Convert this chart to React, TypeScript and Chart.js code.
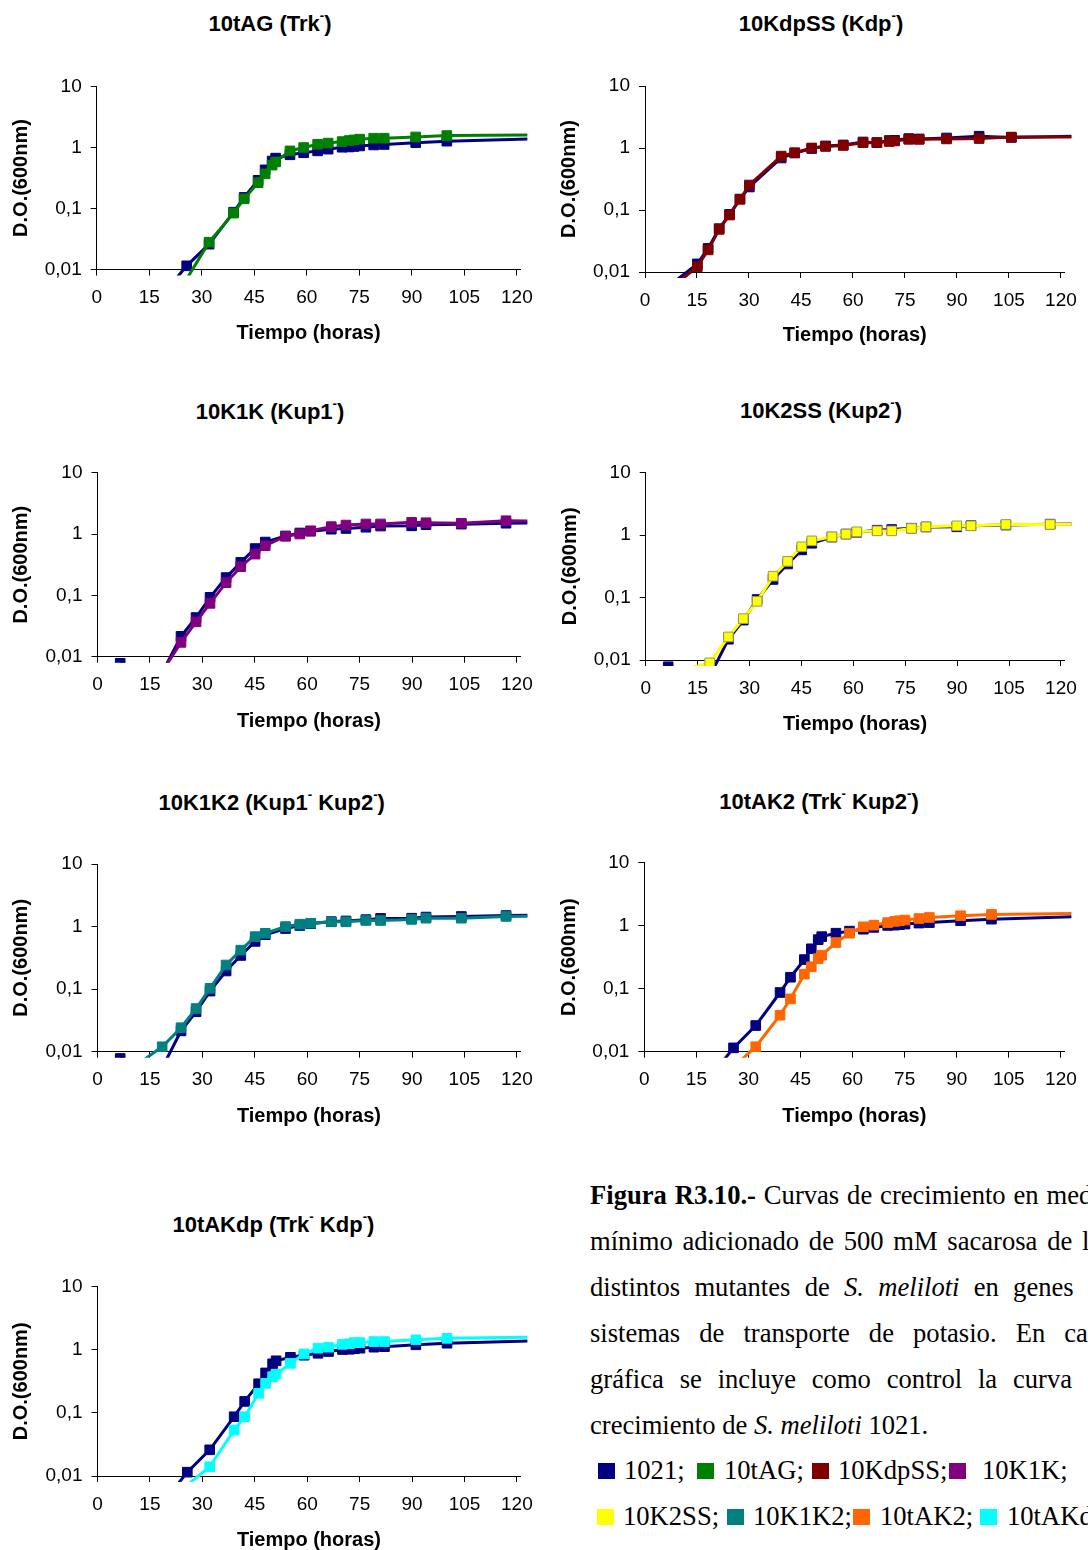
import React, { useEffect, useRef } from "react";
import { Chart, registerables } from "chart.js";

Chart.register(...registerables);

const FONT_SANS = "'Liberation Sans', Arial, Helvetica, sans-serif";
const FONT_SERIF = "'Liberation Serif', 'Times New Roman', Times, serif";

// ---------- axis ticks / labels ----------
const xTickValues = [0, 15, 30, 45, 60, 75, 90, 105, 120];
const yTickValues = [0.01, 0.1, 1, 10];
const yTickLabels = ["0,01", "0,1", "1", "10"];
const xAxisTitle = "Tiempo (horas)";
const yAxisTitle = "D.O.(600nm)";

// ---------- Experiment A (10tAG, 10tAK2, 10tAKdp) ----------
const timeA = [19.5, 25.7, 32.1, 39.1, 42.1, 46.1, 48.1, 50.1, 51.1, 55.2, 59.1, 63.1, 66.1, 70.1, 72.1, 73.5, 75.1, 79.1, 82.1, 91.1, 100, 140];
const od1021A = [0.0043, 0.0115, 0.026, 0.087, 0.152, 0.29, 0.43, 0.6, 0.67, 0.76, 0.82, 0.88, 0.94, 1.01, 1.02, 1.04, 1.06, 1.1, 1.12, 1.2, 1.27, 1.47];
const od10tAG = [0.002, 0.007, 0.028, 0.084, 0.144, 0.265, 0.37, 0.515, 0.58, 0.88, 1.0, 1.13, 1.18, 1.25, 1.3, 1.33, 1.37, 1.42, 1.42, 1.49, 1.57, 1.62];
const od10tAK2 = [0.0015, 0.0057, 0.012, 0.038, 0.069, 0.17, 0.223, 0.3, 0.34, 0.54, 0.76, 0.96, 1.02, 1.12, 1.17, 1.2, 1.23, 1.3, 1.35, 1.44, 1.51, 1.6];
const od10tAKdp = [0.002, 0.0072, 0.014, 0.0535, 0.087, 0.204, 0.294, 0.375, 0.41, 0.61, 0.86, 1.06, 1.1, 1.22, 1.25, 1.3, 1.3, 1.35, 1.35, 1.44, 1.52, 1.62];

// ---------- Experiment B (10KdpSS) ----------
const timeB = [0, 15.1, 18.2, 21.4, 24.4, 27.4, 30.1, 39.3, 43.2, 48.1, 52.1, 57.2, 62.9, 66.9, 70.5, 72, 76.1, 79.1, 87, 96.4, 105.7, 140];
const od1021B = [0.003, 0.0135, 0.024, 0.05, 0.085, 0.15, 0.235, 0.69, 0.83, 0.98, 1.08, 1.12, 1.25, 1.22, 1.32, 1.33, 1.42, 1.4, 1.45, 1.55, 1.48, 1.62];
const od10KdpSS = [0.0025, 0.0122, 0.0227, 0.0487, 0.083, 0.149, 0.253, 0.74, 0.84, 1.0, 1.06, 1.1, 1.22, 1.22, 1.27, 1.3, 1.38, 1.38, 1.4, 1.42, 1.5, 1.5];

// ---------- Experiment C (10K1K, 10K2SS, 10K1K2) ----------
const timeC = [6.5, 18.5, 23.9, 28.2, 32.2, 36.8, 41, 45.1, 48, 53.8, 57.9, 61, 66.9, 71.1, 76.8, 81, 89.9, 94, 104.1, 116.9, 140];
const od1021C = [0.0078, 0.0055, 0.0215, 0.0435, 0.093, 0.195, 0.345, 0.58, 0.74, 0.93, 1.04, 1.11, 1.2, 1.23, 1.29, 1.35, 1.36, 1.42, 1.45, 1.5, 1.55];
const od10K1K = [0.006, 0.0057, 0.0171, 0.037, 0.074, 0.161, 0.293, 0.47, 0.645, 0.92, 1.0, 1.13, 1.32, 1.4, 1.46, 1.46, 1.55, 1.53, 1.5, 1.65, 1.6];
const od10K2SS = [0.006, 0.009, 0.0234, 0.046, 0.087, 0.22, 0.38, 0.65, 0.81, 0.94, 1.04, 1.13, 1.17, 1.17, 1.28, 1.36, 1.41, 1.41, 1.48, 1.48, 1.55];
const od10K1K2 = [0.004, 0.012, 0.0242, 0.049, 0.103, 0.243, 0.42, 0.69, 0.78, 1.0, 1.09, 1.13, 1.19, 1.19, 1.25, 1.25, 1.3, 1.36, 1.36, 1.45, 1.47];

// ---------- strains / colours ----------
const strainNames = ["1021", "10tAG", "10KdpSS", "10K1K", "10K2SS", "10K1K2", "10tAK2", "10tAKdp"];
const strainColors = ["#000080", "#008000", "#800000", "#800080", "#FFFF00", "#008080", "#FF6600", "#00FFFF"];
const colorOf = (name: string) => strainColors[strainNames.indexOf(name)];

// ---------- caption ----------
const legendRow1 = ["1021;", "10tAG;", "10KdpSS;", "10K1K;"];
const legendRow1Colors = [colorOf("1021"), colorOf("10tAG"), colorOf("10KdpSS"), colorOf("10K1K")];
const legendRow2 = ["10K2SS;", "10K1K2;", "10tAK2;", "10tAKdp."];
const legendRow2Colors = [colorOf("10K2SS"), colorOf("10K1K2"), colorOf("10tAK2"), colorOf("10tAKdp")];

// ---------- layout constants ----------
const X_MAX = 121;
const TICK_FONT = 19;
const AXIS_TITLE_FONT = 20;
const PANEL_TITLE_FONT = 22;
const CANVAS_W = 544;

type Series = { label: string; times: number[]; values: number[]; color: string; edge: string };
type Panel = {
  key: string;
  title: React.ReactNode;
  cl: number;
  x0: number;
  x120: number;
  yTop: number;
  yBot: number;
  xTitleY: number;
  yTitleX: number;
  titleX: number;
  titleY: number;
  series: Series[];
};

const Sup = () => (
  <sup style={{ fontSize: "0.6em", lineHeight: 0, verticalAlign: "0.85em" }}>-</sup>
);

const mk = (label: string, times: number[], values: number[]): Series => ({
  label,
  times,
  values,
  color: colorOf(label),
  edge: label === "10K2SS" ? "#9a9a55" : colorOf(label),
});

const panels: Panel[] = [
  {
    key: "p1",
    title: <>10tAG (Trk<Sup />)</>,
    cl: 0, x0: 96.7, x120: 517.4, yTop: 86.5, yBot: 269.5, xTitleY: 332.5, yTitleX: 21.7,
    titleX: 270, titleY: 24,
    series: [mk("10tAG", timeA, od10tAG), mk("1021", timeA, od1021A)],
  },
  {
    key: "p2",
    title: <>10KdpSS (Kdp<Sup />)</>,
    cl: 544, x0: 645, x120: 1068.9, yTop: 86, yBot: 272, xTitleY: 335, yTitleX: 569,
    titleX: 821, titleY: 24,
    series: [mk("10KdpSS", timeB, od10KdpSS), mk("1021", timeB, od1021B)],
  },
  {
    key: "p3",
    title: <>10K1K (Kup1<Sup />)</>,
    cl: 0, x0: 97.5, x120: 518.3, yTop: 472.7, yBot: 656.7, xTitleY: 721, yTitleX: 21.5,
    titleX: 270, titleY: 411.5,
    series: [mk("10K1K", timeC, od10K1K), mk("1021", timeC, od1021C)],
  },
  {
    key: "p4",
    title: <>10K2SS (Kup2<Sup />)</>,
    cl: 544, x0: 645.7, x120: 1068.2, yTop: 472.7, yBot: 660, xTitleY: 724, yTitleX: 570,
    titleX: 821, titleY: 411,
    series: [mk("10K2SS", timeC, od10K2SS), mk("1021", timeC, od1021C)],
  },
  {
    key: "p5",
    title: <>10K1K2 (Kup1<Sup /> Kup2<Sup />)</>,
    cl: 0, x0: 97.5, x120: 520.7, yTop: 864, yBot: 1051.7, xTitleY: 1116, yTitleX: 21.6,
    titleX: 271.7, titleY: 803,
    series: [mk("10K1K2", timeC, od10K1K2), mk("1021", timeC, od1021C)],
  },
  {
    key: "p6",
    title: <>10tAK2 (Trk<Sup /> Kup2<Sup />)</>,
    cl: 544, x0: 644.3, x120: 1068.2, yTop: 862.7, yBot: 1051.7, xTitleY: 1116, yTitleX: 569,
    titleX: 819, titleY: 801.7,
    series: [mk("10tAK2", timeA, od10tAK2), mk("1021", timeA, od1021A)],
  },
  {
    key: "p7",
    title: <>10tAKdp (Trk<Sup /> Kdp<Sup />)</>,
    cl: 0, x0: 97.5, x120: 523.2, yTop: 1286.7, yBot: 1476, xTitleY: 1540, yTitleX: 21,
    titleX: 273.4, titleY: 1225,
    series: [mk("10tAKdp", timeA, od10tAKdp), mk("1021", timeA, od1021A)],
  },
];

function GrowthChart({ p }: { p: Panel }) {
  const ref = useRef<HTMLCanvasElement | null>(null);
  const canvasTop = Math.round(p.yTop - 26);
  const padTop = p.yTop - canvasTop;
  const canvasBottom = Math.round(p.xTitleY + AXIS_TITLE_FONT * 0.6);
  const height = canvasBottom - canvasTop;
  const pxh = (p.x120 - p.x0) / 120;
  const chartRight = p.x0 + X_MAX * pxh;
  const padRight = p.cl + CANVAS_W - chartRight;
  const yAxisWidth = p.x0 - p.cl;
  const xAxisHeight = canvasBottom - p.yBot;
  const yTitlePad = p.yTitleX - p.cl - AXIS_TITLE_FONT * 0.6;
  const tickLen = 6;
  const xTickPad = 28.5 - tickLen - TICK_FONT * 0.6;

  useEffect(() => {
    if (!ref.current) return;
    const chart = new Chart(ref.current, {
      type: "line",
      data: {
        datasets: p.series.map((s) => ({
          label: s.label,
          data: s.times.map((t, i) => ({ x: t, y: s.values[i] })),
          borderColor: s.color,
          backgroundColor: s.color,
          pointBackgroundColor: s.color,
          pointBorderColor: s.edge,
          pointBorderWidth: 1,
          pointRadius: 6.8,
          pointStyle: "rect",
          borderWidth: 3,
          tension: 0,
          fill: false,
          clip: { left: 0, top: 6, right: 7, bottom: 6 } as any,
        })),
      },
      options: {
        animation: false,
        responsive: false,
        devicePixelRatio: 1,
        events: [],
        layout: { padding: { left: 0, top: padTop, right: padRight, bottom: 0 } },
        plugins: { legend: { display: false }, title: { display: false }, tooltip: { enabled: false } },
        scales: {
          x: {
            type: "linear",
            min: 0,
            max: X_MAX,
            afterBuildTicks: (scale: any) => {
              scale.ticks = xTickValues.map((v) => ({ value: v }));
            },
            afterFit: (scale: any) => {
              scale.height = xAxisHeight;
            },
            ticks: {
              autoSkip: false,
              maxRotation: 0,
              padding: xTickPad,
              color: "#000",
              font: { family: FONT_SANS, size: TICK_FONT },
              callback: (v: any) => String(v),
            },
            grid: {
              drawOnChartArea: false,
              drawTicks: true,
              tickLength: tickLen,
              color: "#000",
              tickColor: "#000",
              lineWidth: 1,
            },
            border: { display: true, color: "#000", width: 1 },
            title: {
              display: true,
              text: xAxisTitle,
              color: "#000",
              padding: 0,
              font: { family: FONT_SANS, size: AXIS_TITLE_FONT, weight: "bold" },
            },
          },
          y: {
            type: "logarithmic",
            min: 0.01,
            max: 10,
            afterBuildTicks: (scale: any) => {
              scale.ticks = yTickValues.map((v) => ({ value: v }));
            },
            afterFit: (scale: any) => {
              scale.width = yAxisWidth;
            },
            ticks: {
              autoSkip: false,
              padding: 9,
              color: "#000",
              font: { family: FONT_SANS, size: TICK_FONT },
              callback: (v: any) => {
                const i = yTickValues.findIndex((t) => Math.abs(Math.log10(t) - Math.log10(Number(v))) < 1e-6);
                return i >= 0 ? yTickLabels[i] : "";
              },
            },
            grid: {
              drawOnChartArea: false,
              drawTicks: true,
              tickLength: tickLen,
              color: "#000",
              tickColor: "#000",
              lineWidth: 1,
            },
            border: { display: true, color: "#000", width: 1 },
            title: {
              display: true,
              text: yAxisTitle,
              color: "#000",
              padding: { top: yTitlePad, bottom: 0 },
              font: { family: FONT_SANS, size: AXIS_TITLE_FONT, weight: "bold" },
            },
          },
        },
      } as any,
    });
    return () => chart.destroy();
  }, []);

  return (
    <>
      <div
        style={{
          position: "absolute",
          left: p.titleX - 200,
          width: 400,
          top: p.titleY - 12.7,
          lineHeight: "26px",
          fontSize: PANEL_TITLE_FONT,
          fontWeight: "bold",
          fontFamily: FONT_SANS,
          textAlign: "center",
          color: "#000",
          whiteSpace: "nowrap",
        }}
      >
        {p.title}
      </div>
      <canvas
        ref={ref}
        width={CANVAS_W}
        height={height}
        style={{ position: "absolute", left: p.cl, top: canvasTop, width: CANVAS_W, height }}
      />
    </>
  );
}

const captionLines: React.ReactNode[] = [
  <><b>Figura R3.10.-</b> Curvas de crecimiento en medio</>,
  <>mínimo adicionado de 500 mM sacarosa de los</>,
  <>distintos mutantes de <i>S. meliloti</i> en genes de</>,
  <>sistemas de transporte de potasio. En cada</>,
  <>gráfica se incluye como control la curva de</>,
  <>crecimiento de <i>S. meliloti</i> 1021.</>,
];

const CAPTION_LEFT = 590;
const CAPTION_WIDTH = 523;
const CAPTION_FONT = 26.6;
const CAPTION_LINE = 46;
const CAPTION_FIRST_BASELINE = 1204;
const legendRow1SquareX = [598, 697, 812, 949];
const legendRow1TextX = [624, 724, 838, 982];
const legendRow2SquareX = [597, 727, 853, 980];
const legendRow2TextX = [623, 753, 880, 1007];
const legendBaselines = [1479, 1525];

function Caption() {
  const baselineInLine = (CAPTION_LINE - 1.107 * CAPTION_FONT) / 2 + 0.891 * CAPTION_FONT;
  const top = CAPTION_FIRST_BASELINE - baselineInLine;
  const textTopOffset = 0.891 * CAPTION_FONT + (CAPTION_FONT - 1.107 * CAPTION_FONT) / 2;
  const rows = [
    { labels: legendRow1, colors: legendRow1Colors, sx: legendRow1SquareX, tx: legendRow1TextX, base: legendBaselines[0] },
    { labels: legendRow2, colors: legendRow2Colors, sx: legendRow2SquareX, tx: legendRow2TextX, base: legendBaselines[1] },
  ];
  return (
    <>
      <div
        style={{
          position: "absolute",
          left: CAPTION_LEFT,
          top,
          width: CAPTION_WIDTH,
          fontFamily: FONT_SERIF,
          fontSize: CAPTION_FONT,
          lineHeight: `${CAPTION_LINE}px`,
          color: "#000",
        }}
      >
        {captionLines.map((ln, i) => (
          <div
            key={i}
            style={{
              whiteSpace: "nowrap",
              textAlign: i < captionLines.length - 1 ? "justify" : "left",
              textAlignLast: i < captionLines.length - 1 ? "justify" : "left",
            } as any}
          >
            {ln}
          </div>
        ))}
      </div>
      {rows.map((r, ri) =>
        r.labels.map((lab, k) => (
          <React.Fragment key={`${ri}-${k}`}>
            <div
              style={{
                position: "absolute",
                left: r.sx[k],
                top: r.base - 16,
                width: 17,
                height: 16,
                background: r.colors[k],
              }}
            />
            <div
              style={{
                position: "absolute",
                left: r.tx[k],
                top: r.base - textTopOffset,
                fontFamily: FONT_SERIF,
                fontSize: CAPTION_FONT,
                lineHeight: `${CAPTION_FONT}px`,
                whiteSpace: "nowrap",
                color: "#000",
              }}
            >
              {lab}
            </div>
          </React.Fragment>
        ))
      )}
    </>
  );
}

export default function App() {
  return (
    <div
      style={{
        position: "absolute",
        left: 0,
        top: 0,
        width: 1088,
        height: 1550,
        overflow: "hidden",
        background: "#fff",
      }}
    >
      {panels.map((p) => (
        <GrowthChart key={p.key} p={p} />
      ))}
      <Caption />
    </div>
  );
}
